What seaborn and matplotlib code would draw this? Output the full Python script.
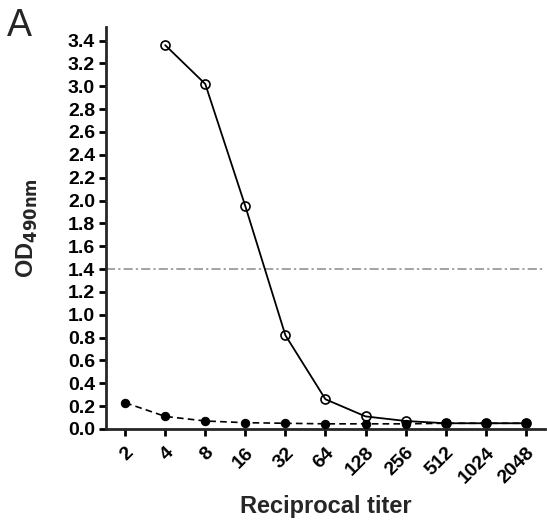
import numpy as np
import pandas as pd
import seaborn as sns
import matplotlib
matplotlib.use("Agg")
import matplotlib.pyplot as plt

sns.set_style("ticks")
plt.rcParams['font.family'] = ['Liberation Sans', 'DejaVu Sans']

titers_open = [4, 8, 16, 32, 64, 128, 256, 512, 1024, 2048]
od_open = [3.36, 3.02, 1.95, 0.82, 0.26, 0.11, 0.07, 0.05, 0.05, 0.05]
titers_filled = [2, 4, 8, 16, 32, 64, 128, 256, 512, 1024, 2048]
od_filled = [0.23, 0.11, 0.07, 0.055, 0.05, 0.045, 0.045, 0.045, 0.05, 0.05, 0.05]
cutoff = 1.4
tick_titers = [2, 4, 8, 16, 32, 64, 128, 256, 512, 1024, 2048]
yticks = [round(0.2 * i, 1) for i in range(18)]

df_open = pd.DataFrame({"titer": titers_open, "od": od_open})
df_filled = pd.DataFrame({"titer": titers_filled, "od": od_filled})

fig = plt.figure(figsize=(5.47, 5.27), dpi=100)
ax = fig.add_axes([0.194, 0.186, 0.802, 0.763])

sns.lineplot(data=df_filled, x="titer", y="od", ax=ax, color="black",
             linestyle=(0, (4, 2.5)), linewidth=1.2, marker="o", markersize=6,
             markerfacecolor="black", markeredgecolor="black", zorder=3)
sns.lineplot(data=df_open, x="titer", y="od", ax=ax, color="black",
             linewidth=1.3, marker="o", markersize=6.5,
             markerfacecolor="none", markeredgecolor="black", markeredgewidth=1.2, zorder=2)
ax.axhline(cutoff, color="#8a8a8a", linestyle=(0, (6, 2, 1.5, 2)), linewidth=1.1, zorder=1)

ax.set_xscale("log", base=2)
ax.set_xlim(2 ** 0.525, 2 ** 11.475)
ax.set_ylim(0, 3.52)
ax.set_xticks(tick_titers)
ax.set_xticklabels([str(t) for t in tick_titers], rotation=45, ha="right",
                   rotation_mode="anchor", fontsize=14, fontweight="bold")
ax.xaxis.set_minor_locator(matplotlib.ticker.NullLocator())
ax.set_yticks(yticks)
ax.set_yticklabels([f"{v:.1f}" for v in yticks], fontsize=14, fontweight="bold")

for s in ["top", "right"]:
    ax.spines[s].set_visible(False)
for s in ["left", "bottom"]:
    ax.spines[s].set_linewidth(2)
ax.tick_params(axis="both", width=2, length=5, direction="out", colors="black", pad=3)
ax.tick_params(axis="x", pad=6)

ax.set_xlabel("Reciprocal titer", fontsize=17, fontweight="bold", labelpad=6)
ax.set_ylabel(r"OD$_{\mathbf{490nm}}$", fontsize=17, fontweight="bold", labelpad=20)

fig.text(0.012, 0.917, "A", fontsize=27, ha="left", va="bottom")

fig.savefig("out.png", dpi=100)
